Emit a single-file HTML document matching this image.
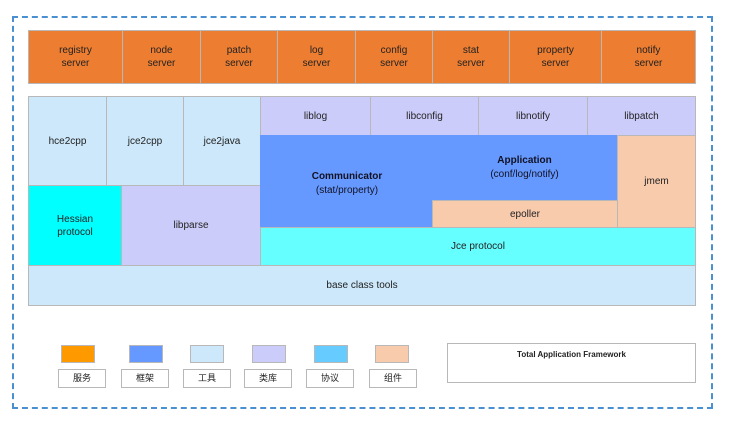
<!DOCTYPE html><html><head><style>
body{margin:0;width:745px;height:427px;background:#fff;position:relative;font-family:"Liberation Sans","Noto Sans CJK SC",sans-serif;overflow:hidden}
div.b{position:absolute;box-sizing:border-box;border:1px solid #b8b8b8;display:flex;align-items:center;justify-content:center;text-align:center;font-size:10px;color:#222;line-height:13px}
</style></head><body>
<div style="position:absolute;left:12px;top:16px;width:701px;height:393px;border:2px dashed #4a90d0;box-sizing:border-box"></div>
<div class="b" style="left:28px;top:30px;width:95px;height:54px;background:#ed7d31">registry<br>server</div>
<div class="b" style="left:122px;top:30px;width:79px;height:54px;background:#ed7d31">node<br>server</div>
<div class="b" style="left:200px;top:30px;width:78px;height:54px;background:#ed7d31">patch<br>server</div>
<div class="b" style="left:277px;top:30px;width:79px;height:54px;background:#ed7d31">log<br>server</div>
<div class="b" style="left:355px;top:30px;width:78px;height:54px;background:#ed7d31">config<br>server</div>
<div class="b" style="left:432px;top:30px;width:78px;height:54px;background:#ed7d31">stat<br>server</div>
<div class="b" style="left:509px;top:30px;width:93px;height:54px;background:#ed7d31">property<br>server</div>
<div class="b" style="left:601px;top:30px;width:95px;height:54px;background:#ed7d31">notify<br>server</div>
<div class="b" style="left:28px;top:96px;width:79px;height:90px;background:#cce8fa">hce2cpp</div>
<div class="b" style="left:106px;top:96px;width:78px;height:90px;background:#cce8fa">jce2cpp</div>
<div class="b" style="left:183px;top:96px;width:78px;height:90px;background:#cce8fa">jce2java</div>
<div class="b" style="left:28px;top:185px;width:94px;height:81px;background:#00ffff">Hessian<br>protocol</div>
<div class="b" style="left:121px;top:185px;width:140px;height:81px;background:#ccccfa">libparse</div>
<div class="b" style="left:260px;top:96px;width:111px;height:40px;background:#ccccfa">liblog</div>
<div class="b" style="left:370px;top:96px;width:109px;height:40px;background:#ccccfa">libconfig</div>
<div class="b" style="left:478px;top:96px;width:110px;height:40px;background:#ccccfa">libnotify</div>
<div class="b" style="left:587px;top:96px;width:109px;height:40px;background:#ccccfa">libpatch</div>
<div style="position:absolute;left:260px;top:135px;width:358px;height:92px;background:#6699ff"></div>
<div style="position:absolute;left:262px;top:170px;width:170px;text-align:center;font-size:10px;line-height:14px;color:#112"><b>Communicator</b><br>(stat/property)</div>
<div style="position:absolute;left:432px;top:154px;width:185px;text-align:center;font-size:10px;line-height:14px;color:#112"><b>Application</b><br>(conf/log/notify)</div>
<div class="b" style="left:432px;top:200px;width:186px;height:28px;background:#f8cbad">epoller</div>
<div class="b" style="left:617px;top:135px;width:79px;height:93px;background:#f8cbad">jmem</div>
<div class="b" style="left:260px;top:227px;width:436px;height:39px;background:#66ffff">Jce protocol</div>
<div class="b" style="left:28px;top:265px;width:668px;height:41px;background:#cce8fa">base class tools</div>
<div class="b" style="left:61px;top:345px;width:34px;height:18px;background:#ff9900"></div>
<div class="b" style="left:129px;top:345px;width:34px;height:18px;background:#6699ff"></div>
<div class="b" style="left:190px;top:345px;width:34px;height:18px;background:#cce8fa"></div>
<div class="b" style="left:252px;top:345px;width:34px;height:18px;background:#ccccfa"></div>
<div class="b" style="left:314px;top:345px;width:34px;height:18px;background:#66ccff"></div>
<div class="b" style="left:375px;top:345px;width:34px;height:18px;background:#f8cbad"></div>
<div class="b" style="left:58px;top:369px;width:48px;height:19px;background:#fff;font-size:9px">服务</div>
<div class="b" style="left:121px;top:369px;width:48px;height:19px;background:#fff;font-size:9px">框架</div>
<div class="b" style="left:183px;top:369px;width:48px;height:19px;background:#fff;font-size:9px">工具</div>
<div class="b" style="left:244px;top:369px;width:48px;height:19px;background:#fff;font-size:9px">类库</div>
<div class="b" style="left:306px;top:369px;width:48px;height:19px;background:#fff;font-size:9px">协议</div>
<div class="b" style="left:369px;top:369px;width:48px;height:19px;background:#fff;font-size:9px">组件</div>
<div class="b" style="left:447px;top:343px;width:249px;height:40px;background:#fff;align-items:flex-start;padding-top:4px;font-size:8px;font-weight:bold">Total Application Framework</div>
</body></html>
